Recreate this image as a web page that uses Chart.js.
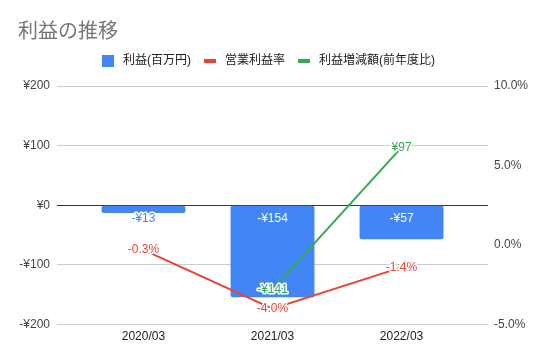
<!DOCTYPE html>
<html>
<head>
<meta charset="utf-8">
<script src="https://cdn.jsdelivr.net/npm/chart.js@4"></script>
<style>
html,body{margin:0;padding:0;background:#fff;}
#wrap{width:547px;height:360px;}
</style>
</head>
<body>
<div id="wrap"><canvas id="c" width="547" height="360"></canvas></div>
<script>
const categories = ['2020/03', '2021/03', '2022/03'];
const profit = [-13, -154, -57];            // 利益(百万円)
const opMargin = [-0.3, -4.0, -1.4];        // 営業利益率 (%)
const profitChange = [null, -141, 97];      // 利益増減額(前年度比)
const leftTicks = [-200, -100, 0, 100, 200];
const rightTicks = [-5, 0, 5, 10];

const FONT = "'Liberation Sans', 'Noto Sans CJK JP', Arial, sans-serif";

function yen(v) {
  return (v < 0 ? '-¥' : '¥') + Math.abs(v);
}

function legendMarker(color, kind) {
  const cv = document.createElement('canvas');
  cv.width = 15; cv.height = 12;
  const c = cv.getContext('2d');
  c.fillStyle = color;
  if (kind === 'rect') c.fillRect(0, 0, 12, 12);
  else c.fillRect(0, 4, 12, 4);
  return cv;
}

const labelPlugin = {
  id: 'valueLabels',
  afterDatasetsDraw(chart) {
    const ctx = chart.ctx;
    ctx.save();
    ctx.font = '12px ' + FONT;
    ctx.textAlign = 'center';
    ctx.textBaseline = 'middle';
    ctx.lineJoin = 'round';
    chart.data.datasets.forEach((ds, di) => {
      const meta = chart.getDatasetMeta(di);
      meta.data.forEach((el, i) => {
        const v = ds.data[i].y;
        if (v === null || v === undefined) return;
        let text, x = el.x, y, color, halo = true;
        if (ds.type === 'bar') {
          text = yen(v);
          y = el.base + 13;
          const h = Math.abs(el.y - el.base);
          if (h > 20) { color = '#ffffff'; halo = false; }
          else { color = ds.backgroundColor; }
        } else if (ds.yAxisID === 'y2') {
          text = v.toFixed(1) + '%';
          y = el.y;
          color = ds.borderColor;
        } else {
          text = yen(v);
          y = el.y;
          color = ds.borderColor;
        }
        if (halo) {
          ctx.strokeStyle = '#ffffff';
          ctx.lineWidth = 3;
          ctx.strokeText(text, x, y);
        }
        ctx.fillStyle = color;
        ctx.fillText(text, x, y);
      });
    });
    ctx.restore();
  }
};

const legendSpacer = {
  id: 'legendSpacer',
  beforeInit(chart) {
    const orig = chart.legend.fit;
    chart.legend.fit = function () {
      orig.call(this);
      this.height += 9;
    };
  },
  afterLayout(chart) {
    chart.legend.left -= 10;
    chart.legend.right -= 10;
  }
};

const gridColor = (c) => (c.tick && c.tick.value === 0 ? '#333333' : '#cccccc');

new Chart(document.getElementById('c'), {
  data: {
    datasets: [
      {
        type: 'bar',
        label: '利益(百万円)',
        data: categories.map((c, i) => ({ x: i, y: profit[i] })),
        backgroundColor: '#4285F4',
        borderRadius: 2,
        borderSkipped: false,
        categoryPercentage: 1,
        barPercentage: 0.65,
        yAxisID: 'y',
        order: 3
      },
      {
        type: 'line',
        label: '営業利益率',
        data: categories.map((c, i) => ({ x: i, y: opMargin[i] })),
        borderColor: '#EA4335',
        backgroundColor: '#EA4335',
        borderWidth: 2,
        pointRadius: 0,
        yAxisID: 'y2',
        order: 2
      },
      {
        type: 'line',
        label: '利益増減額(前年度比)',
        data: categories.map((c, i) => ({ x: i, y: profitChange[i] })),
        borderColor: '#34A853',
        backgroundColor: '#34A853',
        borderWidth: 2,
        pointRadius: 0,
        yAxisID: 'y',
        order: 1
      }
    ]
  },
  options: {
    responsive: false,
    animation: false,
    layout: { padding: { left: 18, right: 8, top: 12, bottom: 11 } },
    plugins: {
      title: {
        display: true,
        text: '利益の推移',
        align: 'start',
        color: '#757575',
        font: { family: "'Noto Sans CJK JP', sans-serif", size: 20, weight: 'normal' },
        padding: { top: 6, bottom: 0 }
      },
      legend: {
        display: true,
        position: 'top',
        labels: {
          color: '#222222',
          font: { family: FONT, size: 12 },
          usePointStyle: true,
          boxHeight: 12,
          boxWidth: 15,
          pointStyleWidth: 15,
          padding: 13,
          generateLabels(chart) {
            return chart.data.datasets.map((ds, i) => {
              const col = ds.type === 'bar' ? ds.backgroundColor : ds.borderColor;
              return {
                text: ds.label,
                fillStyle: col,
                strokeStyle: col,
                lineWidth: 0,
                pointStyle: legendMarker(col, ds.type === 'bar' ? 'rect' : 'line'),
                fontColor: '#222222',
                datasetIndex: i,
                hidden: false
              };
            });
          }
        }
      },
      tooltip: { enabled: false }
    },
    scales: {
      x: {
        type: 'linear',
        offset: false,
        min: -0.67,
        max: 2.67,
        grid: { display: false, drawTicks: false },
        border: { display: false },
        afterBuildTicks(axis) {
          axis.ticks = categories.map((c, i) => ({ value: i }));
        },
        ticks: {
          color: '#222222',
          font: { family: FONT, size: 12 },
          padding: 5,
          maxRotation: 0,
          autoSkip: false,
          callback: (v) => categories[v]
        }
      },
      y: {
        type: 'linear',
        position: 'left',
        min: -200,
        max: 200,
        afterBuildTicks(axis) {
          axis.ticks = leftTicks.map(v => ({ value: v }));
        },
        afterFit(axis) { axis.width = 39; },
        grid: { color: gridColor, drawTicks: false, lineWidth: 1 },
        border: { display: false },
        ticks: {
          color: '#444444',
          font: { family: FONT, size: 12 },
          padding: 7,
          callback: (v) => yen(v)
        }
      },
      y2: {
        type: 'linear',
        position: 'right',
        min: -5,
        max: 10,
        afterBuildTicks(axis) {
          axis.ticks = rightTicks.map(v => ({ value: v }));
        },
        afterFit(axis) { axis.width = 51; },
        grid: { display: false, drawOnChartArea: false, drawTicks: false },
        border: { display: false },
        ticks: {
          color: '#444444',
          font: { family: FONT, size: 12 },
          padding: 6,
          callback: (v) => v.toFixed(1) + '%'
        }
      }
    }
  },
  plugins: [labelPlugin, legendSpacer]
});
</script>
</body>
</html>
